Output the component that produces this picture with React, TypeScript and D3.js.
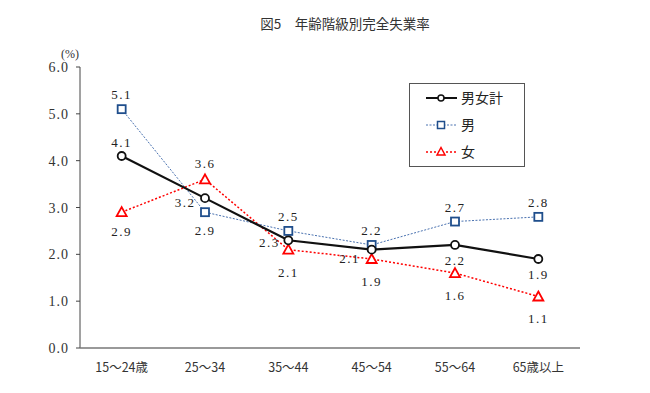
import React from "react";
import * as d3 from "d3";

const categories = ["15～24歳", "25～34", "35～44", "45～54", "55～64", "65歳以上"];
const totalValues = [4.1, 3.2, 2.3, 2.1, 2.2, 1.9];
const maleValues = [5.1, 2.9, 2.5, 2.2, 2.7, 2.8];
const femaleValues = [2.9, 3.6, 2.1, 1.9, 1.6, 1.1];
const yTicks = [0, 1, 2, 3, 4, 5, 6];
const seriesNames = ["男女計", "男", "女"];

// label placement per point: [dx, dy, anchor]
const totalLabelPos: [number, number, string][] = [
  [0, -9, "middle"], [-20, 9, "middle"], [-19, 7, "middle"], [-22, 13, "middle"], [0, 20, "middle"], [0, 20, "middle"],
];
const maleLabelPos: [number, number, string][] = [
  [0, -10, "middle"], [0, 23, "middle"], [0, -10, "middle"], [0, -10, "middle"], [0, -10, "middle"], [0, -10, "middle"],
];
const femaleLabelPos: [number, number, string][] = [
  [0, 24, "middle"], [0, -11, "middle"], [0, 27, "middle"], [0, 27, "middle"], [0, 27, "middle"], [0, 27, "middle"],
];

const W = 650, H = 393;
const left = 80, right = 580, top = 67, bottom = 348;

export default function App() {
  const x = d3.scaleBand<string>().domain(categories).range([left, right]);
  const y = d3.scaleLinear().domain([0, 6]).range([bottom, top]);
  const cx = (c: string) => (x(c) as number) + x.bandwidth() / 2;
  const line = d3.line<number>().x((_, i) => cx(categories[i])).y((v) => y(v));

  const numFont = "'Liberation Serif', 'DejaVu Serif', serif";
  const jpFont = "'Noto Sans CJK JP', sans-serif";

  const labels = (vals: number[], pos: [number, number, string][], key: string) =>
    vals.map((v, i) => (
      <text key={key + i} x={cx(categories[i]) + pos[i][0]} y={y(v) + pos[i][1]} textAnchor={pos[i][2] as any}
        fontFamily={numFont} fontSize={13} letterSpacing={1.5} fill="#222">{v.toFixed(1)}</text>
    ));

  const triangle = (px: number, py: number, k: string) => (
    <path key={k} d={`M${px},${py - 5}L${px + 5},${py + 4}L${px - 5},${py + 4}Z`} fill="#fff" stroke="#FF0000" strokeWidth={1.8} />
  );

  return (
    <svg width={W} height={H} style={{ position: "absolute", left: 0, top: 0, background: "#fff" }}>
      <rect width={W} height={H} fill="#fff" />
      <text x={345} y={29} textAnchor="middle" fontFamily={jpFont} fontSize={13.5} fill="#333">図5　年齢階級別完全失業率</text>
      <text x={70} y={58} textAnchor="middle" fontFamily={numFont} fontSize={12} fill="#333">(%)</text>
      {/* axes */}
      <line x1={left} x2={left} y1={y(6)} y2={bottom} stroke="#444" strokeWidth={1} />
      <line x1={left} x2={right} y1={bottom} y2={bottom} stroke="#777" strokeWidth={1.5} />
      {yTicks.map((t) => (
        <g key={t}>
          <line x1={left - 4} x2={left} y1={y(t)} y2={y(t)} stroke="#444" />
          <text x={69} y={y(t) + 5} textAnchor="end" fontFamily={numFont} fontSize={14} letterSpacing={1} fill="#333">{t.toFixed(1)}</text>
        </g>
      ))}
      {categories.map((c) => (
        <text key={c} x={cx(c)} y={372} textAnchor="middle" fontFamily={jpFont} fontSize={12.5} fill="#333">{c}</text>
      ))}
      {/* female */}
      <path d={line(femaleValues) || ""} fill="none" stroke="#FF0000" strokeWidth={1.5} strokeDasharray="2,2" />
      {femaleValues.map((v, i) => triangle(cx(categories[i]), y(v), "f" + i))}
      {/* male */}
      <path d={line(maleValues) || ""} fill="none" stroke="#4A72B0" strokeWidth={1} strokeDasharray="2,1.5" />
      {maleValues.map((v, i) => (
        <rect key={"m" + i} x={cx(categories[i]) - 4} y={y(v) - 4} width={8} height={8} fill="#fff" stroke="#1F4E8C" strokeWidth={1.8} />
      ))}
      {/* total */}
      <path d={line(totalValues) || ""} fill="none" stroke="#111" strokeWidth={2.2} />
      {totalValues.map((v, i) => (
        <circle key={"t" + i} cx={cx(categories[i])} cy={y(v)} r={4} fill="#fff" stroke="#111" strokeWidth={1.8} />
      ))}
      {labels(totalValues, totalLabelPos, "tl")}
      {labels(maleValues, maleLabelPos, "ml")}
      {labels(femaleValues, femaleLabelPos, "fl")}
      {/* legend */}
      <rect x={409.5} y={83.5} width={115} height={83} fill="#fff" stroke="#555" strokeWidth={1} />
      <line x1={426} x2={457} y1={98} y2={98} stroke="#111" strokeWidth={2} />
      <circle cx={441} cy={98} r={3} fill="#fff" stroke="#111" strokeWidth={1.5} />
      <line x1={426} x2={457} y1={125} y2={125} stroke="#4A72B0" strokeWidth={1} strokeDasharray="2,1.5" />
      <rect x={437.5} y={121.5} width={7} height={7} fill="#fff" stroke="#1F4E8C" strokeWidth={1.5} />
      <line x1={426} x2={457} y1={152} y2={152} stroke="#FF0000" strokeWidth={1.5} strokeDasharray="2,2" />
      <path d="M441,147.5L445,155L437,155Z" fill="#fff" stroke="#FF0000" strokeWidth={1.5} />
      {seriesNames.map((s, i) => (
        <text key={s} x={461} y={103 + i * 27} fontFamily={jpFont} fontSize={14} fill="#222">{s}</text>
      ))}
    </svg>
  );
}
